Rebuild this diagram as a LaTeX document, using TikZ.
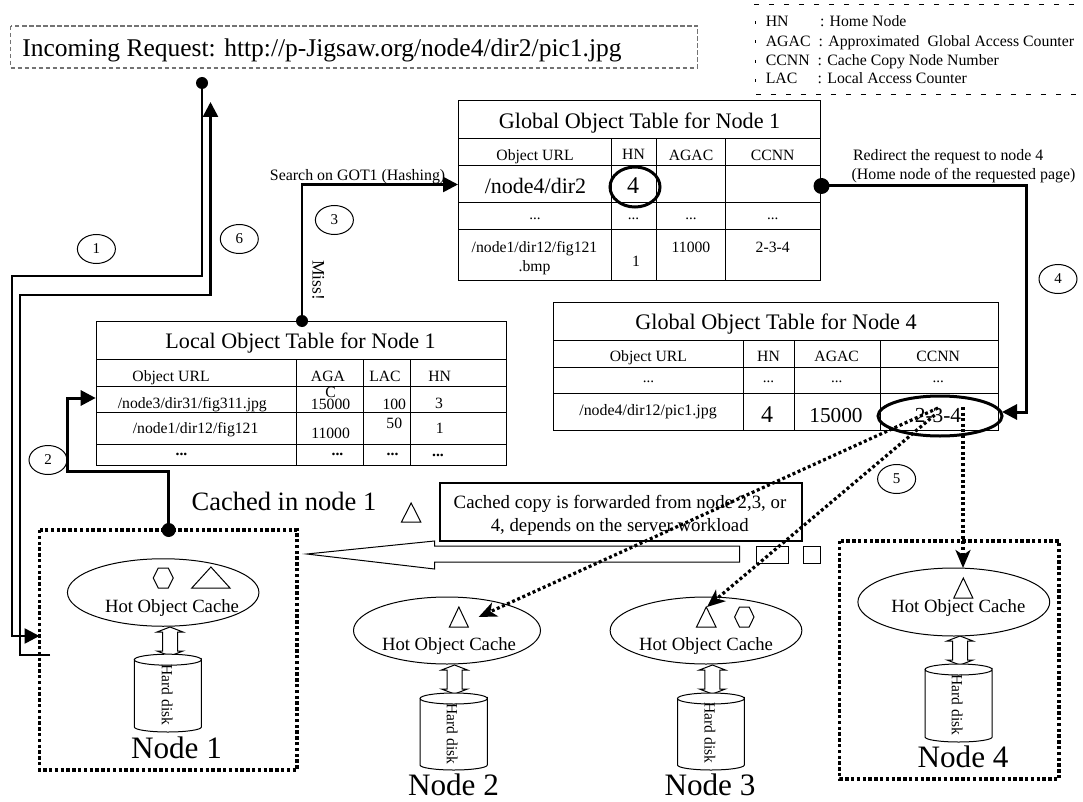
\documentclass[tikz,border=0pt]{standalone}
\usepackage{fontspec}
\setmainfont{Liberation Serif}
\usetikzlibrary{arrows.meta,shapes.geometric}
\tikzset{
  fs/.code={\pgfmathsetmacro\fsh{#1*0.66}\tikzset{font=\fontsize{#1}{20}\selectfont}\edef\fstmp{\noexpand\tikzset{text height=\fsh pt}}\fstmp},
  txt/.style={inner sep=0pt,outer sep=0pt,text=black,text depth=0pt},
  tbl/.style={draw=black,line width=1pt,inner sep=0pt,outer sep=0pt},
  rule/.style={draw=black,line width=1pt},
  conn/.style={draw=black,line width=2.6pt,line join=miter},
  dotnode/.style={circle,fill=black,inner sep=0pt,minimum size=#1},
  dotted box/.style={draw=black,line width=3.4pt,dash pattern=on 3.4pt off 2.4pt},
  dotline/.style={draw=black,line width=3.2pt,dash pattern=on 3pt off 2.6pt},
  tipT/.style={-{Triangle[length=15pt,width=15pt]}},
  tipS/.style={-{Stealth[length=18pt,width=15pt,inset=5pt]}},
  num/.style={ellipse,draw=black,line width=1pt,minimum width=38pt,minimum height=29pt,inner sep=0pt,text depth=0pt,fs=15},
  cache/.style={ellipse,draw=black,line width=1pt,inner sep=0pt},
  thin/.style={draw=black,line width=1pt},
  ring/.style={ellipse,draw=black,line width=3pt,inner sep=0pt},
}
% triangle: x1 x2 ytop ybottom
\newcommand{\trishape}[4]{\draw[thin,line join=miter] ({(#1+#2)/2},#3) -- (#2,#4) -- (#1,#4) -- cycle;}
% hexagon: x1 x2 ytop ybottom
\newcommand{\hexshape}[4]{\draw[thin] (#1,{(#3+#4)/2}) -- ({#1+(#2-#1)/4},#3) -- ({#2-(#2-#1)/4},#3) -- (#2,{(#3+#4)/2}) -- ({#2-(#2-#1)/4},#4) -- ({#1+(#2-#1)/4},#4) -- cycle;}
% disk: x1 x2 ytopcentre ybottomcentre
\newcommand{\diskshape}[4]{\draw[thin,fill=white] (#1,#3) -- (#1,#4) arc[start angle=180,end angle=0,x radius={(#2-#1)/2},y radius=5] -- (#2,#3) arc[start angle=0,end angle=180,x radius={(#2-#1)/2},y radius=5.5] arc[start angle=180,end angle=360,x radius={(#2-#1)/2},y radius=5.5];}
% double arrow: xc ytop ybottom
\newcommand{\dblarrow}[3]{\draw[thin,fill=white,line join=miter] (#1,#2) -- ({#1+13},{#2+5}) -- ({#1+7.5},{#2+5}) -- ({#1+7.5},{#3-5}) -- ({#1+13},{#3-5}) -- (#1,#3) -- ({#1-13},{#3-5}) -- ({#1-7.5},{#3-5}) -- ({#1-7.5},{#2+5}) -- ({#1-13},{#2+5}) -- cycle;}
\begin{document}
\begin{tikzpicture}[x=1pt,y=-1pt]
\useasboundingbox (0,0) rectangle (1083,802);

% request box
\draw[draw=black!55,line width=1.2pt,dash pattern=on 4.5pt off 2.5pt] (10.5,26) rectangle (697.5,68);
\node[txt,fs=25.5] (req) at (322,48) {Incoming Request: http://p-Jigsaw.org/node4/dir2/pic1.jpg};

% legend
\draw[draw=black,line width=1pt,dash pattern=on 5pt off 10pt] (754,5) -- (1083,5);
\draw[draw=black,line width=1pt,dash pattern=on 5pt off 10pt] (756,95) -- (1083,95);
\draw[draw=black,line width=1pt,dash pattern=on 3pt off 16.5pt] (755,21) -- (755,85);
\node[txt,fs=15.8,anchor=base west] (lg1a) at (765.8,27) {HN};
\node[txt,fs=15.8,anchor=base west] (lg1b) at (820,27) {: Home Node};
\node[txt,fs=15.8,anchor=base west] (lg2a) at (765.8,46.7) {AGAC};
\node[txt,fs=15.8,anchor=base west] (lg2b) at (818.7,46.7) {: Approximated\ \ Global Access Counter};
\node[txt,fs=15.8,anchor=base west] (lg3a) at (765.8,66) {CCNN};
\node[txt,fs=15.8,anchor=base west] (lg3b) at (817.7,66) {: Cache Copy Node Number};
\node[txt,fs=15.8,anchor=base west] (lg4a) at (765.8,84) {LAC};
\node[txt,fs=15.8,anchor=base west] (lg4b) at (817.7,84) {: Local Access Counter};

% GOT 1
\node[tbl,minimum width=361.8pt,minimum height=179pt] (got1) at (639.6,190.5) {};
\foreach \yy in {139,166,203,230} \draw[rule] (458.7,\yy) -- (820.5,\yy);
\foreach \xx in {611,656.3,725} \draw[rule] (\xx,139) -- (\xx,280);
\node[txt,fs=22.2] (g1t) at (639.6,121) {Global Object Table for Node 1};
\node[txt,fs=15.7] (g1h1) at (535,155) {Object URL};
\node[txt,fs=15.7] (g1h2) at (633.5,154) {HN};
\node[txt,fs=15.7] (g1h3) at (691,155) {AGAC};
\node[txt,fs=15.7] (g1h4) at (772.7,155) {CCNN};
\node[txt,fs=22] (g1r1) at (535.5,186) {/node4/dir2};
\node[txt,fs=24] (g1r2) at (633,186) {4};
\node[txt,fs=15] (g1d1) at (535,215) {...};
\node[txt,fs=15] (g1d2) at (633.5,215) {...};
\node[txt,fs=15] (g1d3) at (691,215) {...};
\node[txt,fs=15] (g1d4) at (772.7,215) {...};
\node[txt,fs=15.7] (g1a) at (534.5,247) {/node1/dir12/fig121};
\node[txt,fs=15.7] (g1b) at (534.5,266) {.bmp};
\node[txt,fs=15.7] (g1c) at (636,261) {1};
\node[txt,fs=15.7] (g1e) at (691,247) {11000};
\node[txt,fs=15.7] (g1f) at (772.7,247) {2-3-4};

% GOT 4
\node[tbl,minimum width=444.1pt,minimum height=128pt] (got4) at (775.95,366) {};
\foreach \yy in {340,367,393} \draw[rule] (553.9,\yy) -- (998,\yy);
\foreach \xx in {743.3,794.5,880.4} \draw[rule] (\xx,340) -- (\xx,430);
\node[txt,fs=22.2] (g4t) at (776,322) {Global Object Table for Node 4};
\node[txt,fs=15.7] (g4h1) at (648.4,356) {Object URL};
\node[txt,fs=15.7] (g4h2) at (768.5,356) {HN};
\node[txt,fs=15.7] (g4h3) at (836.7,356) {AGAC};
\node[txt,fs=15.7] (g4h4) at (938.2,356) {CCNN};
\node[txt,fs=15] (g4d1) at (648.4,378) {...};
\node[txt,fs=15] (g4d2) at (768.5,378) {...};
\node[txt,fs=15] (g4d3) at (836.7,378) {...};
\node[txt,fs=15] (g4d4) at (938.2,378) {...};
\node[txt,fs=15.9] (g4a) at (648,410) {/node4/dir12/pic1.jpg};
\node[txt,fs=24] (g4b) at (767,415) {4};
\node[txt,fs=21.3] (g4c) at (836,415) {15000};
\node[txt,fs=21.4] (g4e) at (938,415) {2-3-4};

% LOT 1
\node[tbl,minimum width=409.6pt,minimum height=144pt] (lot1) at (301.2,393) {};
\foreach \yy in {359,386,412,444} \draw[rule] (96.4,\yy) -- (506,\yy);
\foreach \xx in {296,363.3,410.8} \draw[rule] (\xx,359) -- (\xx,465);
\node[txt,fs=22.1] (l1t) at (300.6,341) {Local Object Table for Node 1};
\node[txt,fs=15.7] (l1h1) at (171,376) {Object URL};
\node[txt,fs=15.7] (l1h2) at (328,376) {AGA};
\node[txt,fs=15.7] (l1h2c) at (330.6,392) {C};
\node[txt,fs=15.7] (l1h3) at (385,376) {LAC};
\node[txt,fs=15.7] (l1h4) at (439.7,376) {HN};
\node[txt,fs=15.7] (l1a) at (192.3,403) {/node3/dir31/fig311.jpg};
\node[txt,fs=15.7] (l1b) at (330.6,404) {15000};
\node[txt,fs=15.7] (l1c) at (394.3,404) {100};
\node[txt,fs=15.7] (l1d) at (439,403) {3};
\node[txt,fs=15.7] (l1e) at (195.6,428) {/node1/dir12/fig121};
\node[txt,fs=15.7] (l1f) at (330.6,433) {11000};
\node[txt,fs=15.7] (l1g) at (394.3,423) {50};
\node[txt,fs=15.7] (l1i) at (439.7,428) {1};
\node[txt,fs=15.7,node font=\bfseries] (l1j) at (181.5,450) {...};
\node[txt,fs=15.7,node font=\bfseries] (l1k) at (337.5,450) {...};
\node[txt,fs=15.7,node font=\bfseries] (l1l) at (392.6,450) {...};
\node[txt,fs=15.7,node font=\bfseries] (l1m) at (438,451) {...};

% dotted node frames
\draw[dotted box] (39.6,530) rectangle (297,770);
\draw[dotted box] (839.5,541) rectangle (1059,779);

% wide arrow, boxes
\draw[thin,line join=miter] (739.7,546) -- (434.5,546) -- (434.5,541) -- (306.8,554) -- (434.5,569) -- (434.5,562) -- (739.7,562) -- cycle;
\draw[thin] (756.5,546) rectangle (788.8,563);
\draw[thin] (803.8,546) rectangle (820.7,563);
\node[draw=black,line width=1.4pt,minimum width=362.2pt,minimum height=58pt,inner sep=0pt,fill=white] (fwd) at (620.9,512) {};
\node[txt,fs=18.8] (fwd1) at (620,502) {Cached copy is forwarded from node 2,3, or};
\node[txt,fs=18.8] (fwd2) at (619.7,525) {4, depends on the server workload};
\node[txt,fs=26.5] (cachedin) at (284,502) {Cached in node 1};
\trishape{401.5}{420.8}{503}{522}

% caches
\dblarrow{170}{627}{656}
\dblarrow{454.5}{665}{694}
\dblarrow{712.4}{665}{694}
\dblarrow{960}{636}{665}
\node[cache,minimum width=191.5pt,minimum height=67.5pt,fill=white] (c1) at (163.2,592.5) {};
\node[cache,minimum width=187pt,minimum height=67pt,fill=white] (c2) at (447,630.5) {};
\node[cache,minimum width=191.7pt,minimum height=67pt,fill=white] (c3) at (706,630.5) {};
\node[cache,minimum width=191.8pt,minimum height=68pt,fill=white] (c4) at (953.8,602) {};
\node[txt,fs=18.7] (hc1) at (172,606) {Hot Object Cache};
\node[txt,fs=18.7] (hc2) at (449,644) {Hot Object Cache};
\node[txt,fs=18.7] (hc3) at (706,644) {Hot Object Cache};
\node[txt,fs=18.7] (hc4) at (958.3,606) {Hot Object Cache};
\trishape{191.8}{230}{567}{588}
\hexshape{153.2}{173.2}{568}{588}
\trishape{449.4}{468.3}{607}{627}
\trishape{696.5}{716}{607}{627}
\hexshape{734.6}{754}{607}{627}
\trishape{953.8}{972.8}{578}{598}

% disks
\diskshape{134.3}{201.4}{659.7}{727}
\diskshape{420}{487.3}{698.5}{765}
\diskshape{677.5}{744.3}{698.5}{765}
\diskshape{925}{992.2}{669.5}{737}
\node[txt,fs=15.5,rotate=-90] (hd1) at (167,695) {Hard disk};
\node[txt,fs=15.5,rotate=-90] (hd2) at (452,734) {Hard disk};
\node[txt,fs=15.5,rotate=-90] (hd3) at (709.7,733) {Hard disk};
\node[txt,fs=15.5,rotate=-90] (hd4) at (957,705) {Hard disk};
\node[txt,fs=31.2] (n1) at (176.5,748) {Node 1};
\node[txt,fs=31.2] (n2) at (453.5,785) {Node 2};
\node[txt,fs=31.2] (n3) at (710,785) {Node 3};
\node[txt,fs=31.2] (n4) at (963,757) {Node 4};

% connector labels
\node[txt,fs=15.9] (search) at (357.6,175) {Search on GOT1 (Hashing)};
\node[txt,fs=17.5,rotate=-90] (miss) at (318.5,280) {Miss!};
\node[txt,fs=15.9,anchor=base west] (red1) at (853,161) {Redirect the request to node 4};
\node[txt,fs=15.9,anchor=base west] (red2) at (851.6,179.5) {(Home node of the requested page)};
\node[num] (s1) at (96.4,249) {1};
\node[num] (s6) at (239.3,239) {6};
\node[num] (s3) at (334.4,220) {3};
\node[num] (s4) at (1058,279) {4};
\node[num] (s2) at (48,460) {2};
\node[num] (s5) at (896.6,479) {5};

% rings
\node[ring,minimum width=50pt,minimum height=40pt] (ring4) at (635,187) {};
\node[ring,minimum width=124pt,minimum height=40pt] (ring234) at (940,416) {};

% dots
\node[dotnode=12pt] (d1) at (202,83) {};
\node[dotnode=14pt] (d2) at (168.7,530) {};
\node[dotnode=12pt] (d3) at (302,321) {};
\node[dotnode=16pt] (d4) at (821.5,186) {};

% connector points
\coordinate (p1a) at (202,276); \coordinate (p1b) at (12,276); \coordinate (p1c) at (12,636); \coordinate (p1d) at (39.5,636);
\coordinate (p6a) at (50,655); \coordinate (p6b) at (20,655); \coordinate (p6c) at (20,295); \coordinate (p6d) at (210.5,295); \coordinate (p6e) at (210.5,102);
\coordinate (p3a) at (302,184.5); \coordinate (p3b) at (458,184.5);
\coordinate (p2a) at (168.7,471); \coordinate (p2b) at (67.8,471); \coordinate (p2c) at (67.8,398); \coordinate (p2d) at (95.7,398);
\coordinate (p4a) at (1026.5,186); \coordinate (p4b) at (1026.5,412); \coordinate (p4c) at (1002,412);
\coordinate (q1a) at (938,408); \coordinate (q1b) at (478.6,617);
\coordinate (q2a) at (934.7,415); \coordinate (q2b) at (707,607);
\coordinate (q3a) at (963,407); \coordinate (q3b) at (963,568);

\draw[conn,tipT] (d1.center) -- (p1a) -- (p1b) -- (p1c) -- (p1d);
\draw[conn,tipT] (p6a) -- (p6b) -- (p6c) -- (p6d) -- (p6e);
\draw[conn,tipT] (d3.center) -- (p3a) -- (p3b);
\draw[conn,line width=3pt,tipT] (d2.center) -- (p2a) -- (p2b) -- (p2c) -- (p2d);
\draw[conn,line width=3pt,tipT] (d4.center) -- (p4a) -- (p4b) -- (p4c);
\draw[dotline,tipS] (q1a) -- (q1b);
\draw[dotline,tipS] (q2a) -- (q2b);
\draw[dotline,tipS] (q3a) -- (q3b);
\end{tikzpicture}
\end{document}
